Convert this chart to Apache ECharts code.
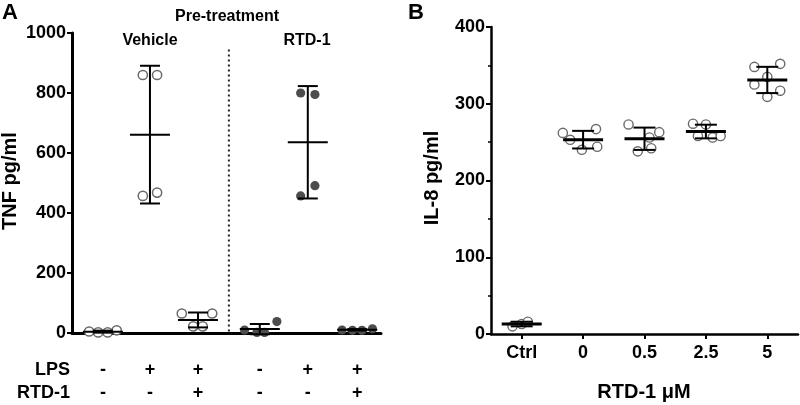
<!DOCTYPE html>
<html>
<head>
<meta charset="utf-8">
<script src="https://cdn.jsdelivr.net/npm/echarts@6/dist/echarts.min.js"></script>
<style>
  html, body { margin: 0; padding: 0; background: #fff; }
  #chart { width: 800px; height: 405px; }
</style>
</head>
<body>
<div id="chart"></div>
<script>
// ---- Panel A: TNF pg/ml ----
const tnfGroupPos = [0.65, 1.64, 2.65, 3.95, 4.96, 6.0];   // x position of each group
const tnfVals = [
  [5, 2, 2, 9],
  [860, 860, 457, 468],
  [65, 22, 22, 65],
  [10, 2, 2, 38],
  [800, 795, 457, 491],
  [10, 9, 9, 14]
];
// horizontal scatter offset of each point (x axis units)
const tnfJitter = [
  [-0.29, -0.1, 0.1, 0.29],
  [-0.15, 0.15, -0.15, 0.15],
  [-0.34, -0.1, 0.1, 0.3],
  [-0.32, -0.06, 0.1, 0.36],
  [-0.15, 0.15, -0.15, 0.15],
  [-0.32, -0.1, 0.1, 0.32]
];
const tnfFilled = [false, false, false, true, true, true];
const lpsRow = ['-', '+', '+', '-', '+', '+'];
const rtdRow = ['-', '-', '+', '-', '-', '+'];
const separatorPos = 3.3;

// ---- Panel B: IL-8 pg/ml ----
const il8Cats = ['Ctrl', '0', '0.5', '2.5', '5'];
const il8Vals = [
  [10, 13, 16],
  [262, 253, 240, 267, 244],
  [273, 238, 256, 242, 263],
  [274, 273, 258, 256, 258],
  [348, 352, 335, 325, 317, 309]
];
// offset of each point as a fraction of the category band
const il8Jitter = [
  [-0.15, 0, 0.1],
  [-0.33, -0.21, -0.02, 0.21, 0.23],
  [-0.26, -0.11, 0.08, 0.11, 0.24],
  [-0.21, 0, -0.13, 0.11, 0.24],
  [-0.21, 0.21, 0, -0.21, 0.21, 0]
];

const FONT = 'Liberation Sans, Arial, sans-serif';

// mean and sample SD
const stats = (arr) => {
  const m = arr.reduce((a, b) => a + b, 0) / arr.length;
  const sd = Math.sqrt(arr.reduce((a, b) => a + (b - m) * (b - m), 0) / (arr.length - 1));
  return { mean: m, sd: sd };
};

// mean line + SD whiskers
const barLines = (cx, yMean, yTop, yBot, meanHalf, capHalf, meanW, capW) => [
  { type: 'line', shape: { x1: cx, y1: yTop, x2: cx, y2: yBot }, style: { stroke: '#000', lineWidth: capW } },
  { type: 'line', shape: { x1: cx - capHalf, y1: yTop, x2: cx + capHalf, y2: yTop }, style: { stroke: '#000', lineWidth: capW } },
  { type: 'line', shape: { x1: cx - capHalf, y1: yBot, x2: cx + capHalf, y2: yBot }, style: { stroke: '#000', lineWidth: capW } },
  { type: 'line', shape: { x1: cx - meanHalf, y1: yMean, x2: cx + meanHalf, y2: yMean }, style: { stroke: '#000', lineWidth: meanW } }
];

const renderA = (params, api) => {
  const i = params.dataIndex;
  const pos = tnfGroupPos[i];
  const s = stats(tnfVals[i]);
  const children = tnfVals[i].map((v, k) => {
    const p = api.coord([pos + tnfJitter[i][k], v]);
    return {
      type: 'circle',
      shape: { cx: p[0], cy: p[1], r: 4.6 },
      style: tnfFilled[i] ? { fill: '#4d4d4d' } : { fill: '#fff', stroke: '#6a6a6a', lineWidth: 1.5 }
    };
  });
  const c = api.coord([pos, s.mean]);
  const t = api.coord([pos, s.mean + s.sd]);
  const b = api.coord([pos, s.mean - s.sd]);
  return { type: 'group', children: children.concat(barLines(c[0], c[1], t[1], b[1], 20, 10, 2, 2)) };
};

const renderB = (params, api) => {
  const i = params.dataIndex;
  const s = stats(il8Vals[i]);
  const band = api.size([1, 0])[0];
  const children = il8Vals[i].map((v, k) => {
    const p = api.coord([i, v]);
    return {
      type: 'circle',
      shape: { cx: p[0] + il8Jitter[i][k] * band, cy: p[1], r: 4.6 },
      style: { fill: '#fff', stroke: '#6a6a6a', lineWidth: 1.4 }
    };
  });
  const c = api.coord([i, s.mean]);
  const t = api.coord([i, s.mean + s.sd]);
  const b = api.coord([i, s.mean - s.sd]);
  return { type: 'group', children: children.concat(barLines(c[0], c[1], t[1], b[1], 20, 11, 3, 2)) };
};

// +/- rows under panel A
const renderRows = (params, api) => {
  const i = params.dataIndex;
  const x = api.coord([tnfGroupPos[i], 0])[0];
  const mk = (txt, y) => ({
    type: 'text',
    style: { text: txt, x: x, y: y, textAlign: 'center', textVerticalAlign: 'middle', align: 'center', verticalAlign: 'middle',
      font: 'bold 18px ' + FONT, fill: '#000' }
  });
  return { type: 'group', children: [mk(lpsRow[i], 370), mk(rtdRow[i], 393)] };
};

const renderSep = (params, api) => {
  const t = api.coord([separatorPos, 945]);
  const b = api.coord([separatorPos, -6]);
  return {
    type: 'line',
    shape: { x1: t[0], y1: t[1], x2: b[0], y2: b[1] },
    style: { stroke: '#222', lineWidth: 2, lineDash: [2, 3] }
  };
};

const axisLabelStyle = { color: '#000', fontFamily: FONT, fontWeight: 'bold', fontSize: 18 };

const txt = (text, x, y, size, align, extra) => Object.assign({
  type: 'text', x: x, y: y,
  style: { text: text, textAlign: align || 'center', textVerticalAlign: 'middle', fill: '#000',
    font: 'bold ' + size + 'px ' + FONT }
}, extra || {});

const chart = echarts.init(document.getElementById('chart'), null, { renderer: 'canvas' });

const option = {
  animation: false,
  backgroundColor: '#fff',
  grid: [
    { left: 72, top: 33, width: 309, height: 300 },
    { left: 491, top: 27, width: 307, height: 307 }
  ],
  xAxis: [
    {
      gridIndex: 0, type: 'value', min: 0, max: 6.5, offset: 7,
      axisLine: { show: true, lineStyle: { color: '#000', width: 3 } },
      axisTick: { show: false }, axisLabel: { show: false }, splitLine: { show: false }
    },
    {
      gridIndex: 1, type: 'category', data: il8Cats, boundaryGap: true,
      axisLine: { show: true, lineStyle: { color: '#000', width: 2.5 } },
      axisTick: { show: true, alignWithLabel: true, length: 5, lineStyle: { color: '#000', width: 2 } },
      axisLabel: Object.assign({ margin: 10 }, axisLabelStyle),
      splitLine: { show: false }
    }
  ],
  yAxis: [
    {
      gridIndex: 0, type: 'value', min: 0, max: 1000, interval: 200,
      axisLine: { show: true, lineStyle: { color: '#000', width: 3 } },
      axisTick: { show: true, length: 5, lineStyle: { color: '#000', width: 2 } },
      axisLabel: Object.assign({ margin: 6, formatter: (v) => String(v) }, axisLabelStyle),
      splitLine: { show: false }
    },
    {
      gridIndex: 1, type: 'value', min: 0, max: 400, interval: 100,
      axisLine: { show: true, lineStyle: { color: '#000', width: 2.5 } },
      axisTick: { show: true, length: 5, lineStyle: { color: '#000', width: 2 } },
      minorTick: { show: true, splitNumber: 2, length: 3, lineStyle: { color: '#000', width: 1.5 } },
      axisLabel: Object.assign({ margin: 6, formatter: (v) => String(v) }, axisLabelStyle),
      splitLine: { show: false }
    }
  ],
  series: [
    {
      type: 'custom', xAxisIndex: 0, yAxisIndex: 0, clip: false, silent: true,
      data: [[separatorPos, 0]], renderItem: renderSep
    },
    {
      type: 'custom', xAxisIndex: 0, yAxisIndex: 0, clip: false,
      data: tnfGroupPos.map((p, i) => [p, stats(tnfVals[i]).mean]),
      renderItem: renderA
    },
    {
      type: 'custom', xAxisIndex: 0, yAxisIndex: 0, clip: false, silent: true,
      data: tnfGroupPos.map((p) => [p, 0]),
      renderItem: renderRows
    },
    {
      type: 'custom', xAxisIndex: 1, yAxisIndex: 1, clip: false,
      data: il8Cats.map((c, i) => [i, stats(il8Vals[i]).mean]),
      renderItem: renderB
    }
  ],
  graphic: [
    txt('A', 2, 13, 22, 'left'),
    txt('B', 408, 13, 22, 'left'),
    txt('Pre-treatment', 227, 17, 16),
    txt('Vehicle', 150, 41, 16),
    txt('RTD-1', 307, 41, 16),
    txt('LPS', 70, 370, 18, 'right'),
    txt('RTD-1', 70, 393, 18, 'right'),
    txt('TNF pg/ml', 10, 181, 20, 'center', { rotation: Math.PI / 2 }),
    txt('IL-8 pg/ml', 432, 178, 20, 'center', { rotation: Math.PI / 2 }),
    txt('RTD-1 \u03BCM', 644, 392, 20)
  ]
};

chart.setOption(option);
</script>
</body>
</html>
